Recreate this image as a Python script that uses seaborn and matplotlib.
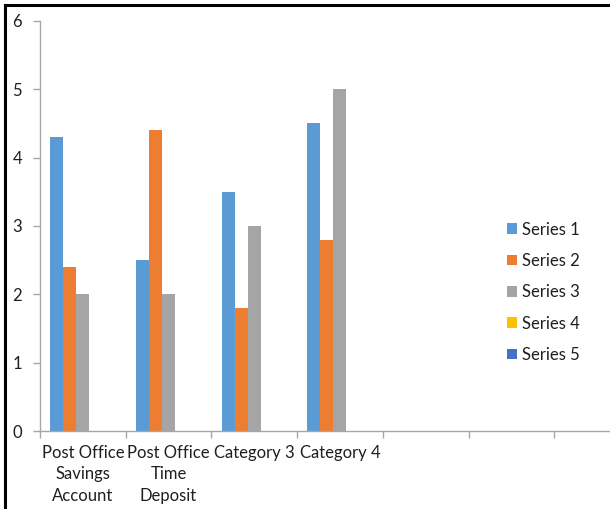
import matplotlib
matplotlib.use("Agg")
import matplotlib.pyplot as plt
import seaborn as sns
import pandas as pd
import numpy as np
from matplotlib.patches import Rectangle

categories = ["Post Office\nSavings\nAccount", "Post Office\nTime\nDeposit", "Category 3", "Category 4"]
empty_slots = ["_e5", "_e6", "_e7"]
series_names = ["Series 1", "Series 2", "Series 3", "Series 4", "Series 5"]
series1 = [4.3, 2.5, 3.5, 4.5]
series2 = [2.4, 4.4, 1.8, 2.8]
series3 = [2.0, 2.0, 3.0, 5.0]
series4 = [np.nan, np.nan, np.nan, np.nan]
series5 = [np.nan, np.nan, np.nan, np.nan]
colors = ["#5B9BD5", "#ED7D31", "#A5A5A5", "#FFC000", "#4472C4"]
yticks = [0, 1, 2, 3, 4, 5, 6]

rows = []
for name, vals in zip(series_names, [series1, series2, series3, series4, series5]):
    for c, v in zip(categories, vals):
        rows.append({"cat": c, "series": name, "value": v})
df = pd.DataFrame(rows)

sns.set_theme(style="white")
plt.rcParams["font.family"] = ["Lato", "DejaVu Sans"]
txt = "#1F1F1F"
axc = "#A6A6A6"

fig = plt.figure(figsize=(6.10, 5.09), dpi=100)
ax = fig.add_axes([40/610, 78/509, 570/610, 410/509])

order = categories + empty_slots
sns.barplot(data=df, x="cat", y="value", hue="series", order=order,
            hue_order=series_names, palette=colors, width=0.76,
            errorbar=None, ax=ax, saturation=1, linewidth=0)

ax.set_ylim(0, 6)
ax.set_yticks(yticks)
ax.set_yticklabels([str(t) for t in yticks], fontsize=12, color=txt)
ax.set_xticks(np.arange(-0.5, 6.0, 1.0))
ax.set_xticklabels([])
ax.set_xticks(range(len(categories)), minor=True)
ax.set_xticklabels(categories, minor=True, fontsize=12, color=txt, linespacing=1.42, ha="center", va="top")
ax.set_xlim(-0.5, -0.5 + 570/85.7)
ax.tick_params(axis="x", which="major", length=5, width=1, color=axc, direction="out", bottom=True)
ax.tick_params(axis="x", which="minor", length=0, pad=10)
ax.tick_params(axis="y", length=5, width=1, color=axc, direction="out", left=True, pad=8)
ax.set_xlabel("")
ax.set_ylabel("")
for s in ["top", "right"]:
    ax.spines[s].set_visible(False)
for s in ["left", "bottom"]:
    ax.spines[s].set_color(axc)
    ax.spines[s].set_linewidth(1)

handles, labels = ax.get_legend_handles_labels()
if ax.get_legend() is not None:
    ax.get_legend().remove()
leg = fig.legend(handles, labels, loc="upper left", bbox_to_anchor=(500/610, 1 - 215/509),
                 frameon=False, fontsize=12, handlelength=0.6, handleheight=0.6,
                 handletextpad=0.35, labelspacing=0.92, borderaxespad=0)
for t in leg.get_texts():
    t.set_color(txt)

fig.patches.append(Rectangle((5/610, -0.1), 1.2, 1 - 5/509 + 0.1, transform=fig.transFigure,
                             fill=False, edgecolor="black", linewidth=2.2, zorder=10))

fig.savefig("out.png", dpi=100)
